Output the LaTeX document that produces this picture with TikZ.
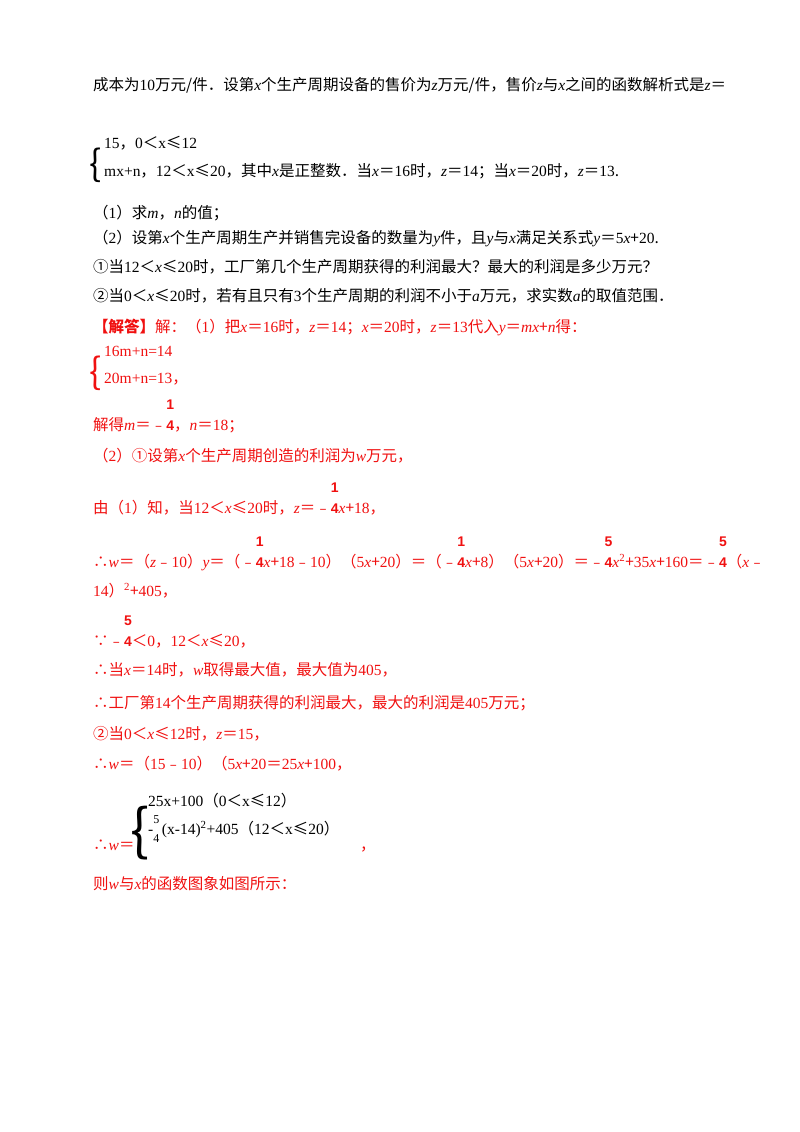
\documentclass[tikz,border=0pt]{standalone}
\usepackage{fontspec}
\setmainfont{Noto Sans CJK SC}
\newfontfamily\lat{Liberation Serif}
\newfontfamily\lats{Liberation Sans}
\newcommand\vv[1]{{\lat\itshape #1}}
\newcommand\nn[1]{{\lat #1}}
\newcommand\fr[2]{{\lats\bfseries\fontsize{14}{14}\selectfont\rlap{\raisebox{21pt}{#1}}#2}}
\newcommand\frs[2]{{\lat\fontsize{12}{12}\selectfont\rlap{\raisebox{11pt}{#1}}\raisebox{-8pt}{#2}}}
\definecolor{rd}{HTML}{F01010}
\begin{document}
\begin{tikzpicture}[x=1pt,y=-1pt,
  every node/.style={inner sep=0pt,anchor=base west,font=\fontsize{15.5}{18}\selectfont},
  r/.style={text=rd}]
\useasboundingbox (0,0) rectangle (800,1132);
\node (l1) at (93,90) {成本为\nn{10}万元/件．设第\vv{x}个生产周期设备的售价为\vv{z}万元/件，售价\vv{z}与\vv{x}之间的函数解析式是\vv{z}＝};
\node[font=\fontsize{36}{36}\selectfont] (b1) at (89,176) {\{};
\node (c1) at (104,148) {\nn{15}，\nn{0}＜\nn{x}≤\nn{12}};
\node (c2) at (104,176) {\nn{mx+n}，\nn{12}＜\nn{x}≤\nn{20}，其中\vv{x}是正整数．当\vv{x}＝\nn{16}时，\vv{z}＝\nn{14}；当\vv{x}＝\nn{20}时，\vv{z}＝\nn{13}.};
\node (q1) at (93,218) {（\nn1）求\vv{m}，\vv{n}的值；};
\node (q2) at (93,243) {（\nn2）设第\vv{x}个生产周期生产并销售完设备的数量为\vv{y}件，且\vv{y}与\vv{x}满足关系式\vv{y}＝\nn{5}\vv{x}+\nn{20}.};
\node (q3) at (93,272) {①当\nn{12}＜\vv{x}≤\nn{20}时，工厂第几个生产周期获得的利润最大？最大的利润是多少万元？};
\node (q4) at (93,301) {②当\nn{0}＜\vv{x}≤\nn{20}时，若有且只有\nn{3}个生产周期的利润不小于\vv{a}万元，求实数\vv{a}的取值范围．};
\node[r] (a0) at (93,332) {\textbf{【解答】}解：（\nn1）把\vv{x}＝\nn{16}时，\vv{z}＝\nn{14}；\vv{x}＝\nn{20}时，\vv{z}＝\nn{13}代入\vv{y}＝\vv{mx}+\vv{n}得：};
\node[r,font=\fontsize{36}{36}\selectfont] (b2) at (89,384) {\{};
\node[r] (s1) at (104,356) {\nn{16m+n=14}};
\node[r] (s2) at (104,383) {\nn{20m+n=13}，};
\node[r] (a1) at (93,430) {解得\vv{m}＝﹣\fr{1}{4}，\vv{n}＝\nn{18}；};
\node[r] (a2) at (93,461) {（\nn2）①设第\vv{x}个生产周期创造的利润为\vv{w}万元，};
\node[r] (a3) at (93,513) {由（\nn1）知，当\nn{12}＜\vv{x}≤\nn{20}时，\vv{z}＝﹣\fr{1}{4}\vv{x}+\nn{18}，};
\node[r] (a4) at (93,567) {∴\vv{w}＝（\vv{z}﹣\nn{10}）\vv{y}＝（﹣\fr{1}{4}\vv{x}+\nn{18}﹣\nn{10}）（\nn{5}\vv{x}+\nn{20}）＝（﹣\fr{1}{4}\vv{x}+\nn{8}）（\nn5\vv{x}+\nn{20}）＝﹣\fr{5}{4}\vv{x}\textsuperscript{\nn2}+\nn{35}\vv{x}+\nn{160}＝﹣\fr{5}{4}（\vv{x}﹣};
\node[r] (a5) at (93,596) {\nn{14}）\textsuperscript{\nn2}+\nn{405}，};
\node[r] (a6) at (93,646) {∵﹣\fr{5}{4}＜\nn0，\nn{12}＜\vv{x}≤\nn{20}，};
\node[r] (a7) at (93,675) {∴当\vv{x}＝\nn{14}时，\vv{w}取得最大值，最大值为\nn{405}，};
\node[r] (a8) at (93,708) {∴工厂第\nn{14}个生产周期获得的利润最大，最大的利润是\nn{405}万元；};
\node[r] (a9) at (93,739) {②当\nn0＜\vv{x}≤\nn{12}时，\vv{z}＝\nn{15}，};
\node[r] (a10) at (93,769) {∴\vv{w}＝（\nn{15}﹣\nn{10}）（\nn5\vv{x}+\nn{20}＝\nn{25}\vv{x}+\nn{100}，};
\node[r] (a11) at (93,850) {∴\vv{w}＝};
\node[font=\fontsize{56}{56}\selectfont] (b3) at (130,850) {\{};
\node (d1) at (148,806) {\nn{25x+100}（\nn0＜\nn{x}≤\nn{12}）};
\node (d2) at (148,834) {\nn{-}\frs{5}{4}\,\nn{(x-14)}\textsuperscript{\nn2}\nn{+405}（\nn{12}＜\nn{x}≤\nn{20}）};
\node[r] (a12) at (360,850) {，};
\node[r] (a13) at (93,889) {则\vv{w}与\vv{x}的函数图象如图所示：};
\end{tikzpicture}
\end{document}
